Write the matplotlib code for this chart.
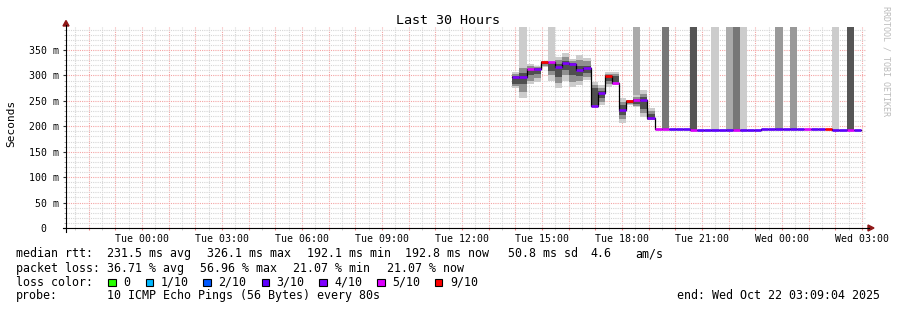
import matplotlib.pyplot as plt
from matplotlib.lines import Line2D
from matplotlib.patches import Rectangle, Polygon
from matplotlib.ticker import MultipleLocator
import numpy as np

plt.rcParams['font.family'] = ['DejaVu Sans Mono']

W, H = 897, 310

# ---- data (hours from Tue 00:00, values in ms) ----
t_start = 13.89          # first 16-minute step
step_h = 16 / 60

median_ms = [296, 296, 313, 312, 326, 326, 317, 324, 322, 311,
             314, 240, 265, 298, 286, 232, 249, 252, 252, 216,
             195.5, 195.5, 194, 194, 194, 193.5, 193.5, 193.5, 193.5, 193.5,
             193.5, 193.5, 193.5, 193.5, 193.5, 195, 195, 195, 195, 194,
             194, 194, 194, 194, 194, 192.1, 193.5, 193.5, 192.8]
loss = [4, 4, 5, 4, 9, 5, 4, 4, 4, 4,
        4, 4, 4, 9, 5, 4, 9, 5, 4, 4,
        5, 5, 3, 3, 3, 5, 3, 3, 3, 3,
        3, 5, 3, 3, 3, 3, 3, 3, 3, 3,
        3, 5, 3, 3, 9, 3, 3, 5, 3]

# smoke for the first 20 steps
outer_lo = [275, 255, 284, 288, 316, 290, 275, 290, 278, 281, 291, 237, 242, 278, 282, 206, 242, 238, 219, 212]
outer_hi = [307, 320, 322, 318, 329, 332, 337, 345, 333, 340, 335, 288, 281, 307, 307, 255, 252, 262, 271, 235]
mid_lo = [279, 268, 290, 294, 319, 300, 285, 300, 288, 290, 297, 240, 248, 283, 285, 214, 244, 240, 226, 213]
mid_hi = [302, 314, 318, 316, 328, 325, 330, 336, 328, 330, 328, 282, 275, 303, 302, 248, 251, 258, 264, 230]
inner_lo = [283, 284, 301, 302, 322, 308, 296, 310, 300, 298, 304, 242, 255, 290, 288, 222, 246, 244, 234, 214]
inner_hi = [299, 304, 313, 314, 327, 324, 322, 328, 324, 318, 318, 275, 270, 300, 298, 242, 250, 254, 258, 225]

# smoke columns running off the top of the chart
spike_steps = [1, 5, 17, 21, 25, 28, 30, 31, 32, 37, 39, 45, 47]
spike_lo = [255, 290, 240, 195.5, 193.5, 193.5, 193.5, 193.5, 193.5, 195, 194, 192.1, 193.5]
spike_shade = ['#cccccc', '#cccccc', '#aaaaaa', '#777777', '#555555', '#cccccc', '#aaaaaa',
               '#777777', '#cccccc', '#999999', '#999999', '#cccccc', '#555555']

loss_keys = [0, 1, 2, 3, 4, 5, 9]
loss_labels = ['0', '1/10', '2/10', '3/10', '4/10', '5/10', '9/10']
loss_colors = ['#26ff00', '#00b8ff', '#0059ff', '#5e00ff', '#7e00ff', '#dd00ff', '#ff0000']

y_top = 395
x_min, x_max = -2.849, 27.151


def fx(px):
    return px / W


def fy(py):
    return 1 - py / H


fig = plt.figure(figsize=(W / 100, H / 100), dpi=100, facecolor='white')
ax = fig.add_axes([fx(66), fy(228), 800 / W, (228 - 27.1) / H])
ax.set_facecolor('white')

starts = t_start + np.arange(len(median_ms)) * step_h

# smoke
n = len(outer_lo)
ax.bar(starts[:n], np.array(outer_hi) - np.array(outer_lo), bottom=outer_lo,
       width=step_h, align='edge', color='#cccccc', lw=0, zorder=2)
ax.bar(starts[:n], np.array(mid_hi) - np.array(mid_lo), bottom=mid_lo,
       width=step_h, align='edge', color='#8f8f8f', lw=0, zorder=2)
ax.bar(starts[:n], np.array(inner_hi) - np.array(inner_lo), bottom=inner_lo,
       width=step_h, align='edge', color='#4f4f4f', lw=0, zorder=2)
for s, lo, c in zip(spike_steps, spike_lo, spike_shade):
    ax.bar(starts[s], y_top + 10 - lo, bottom=lo, width=step_h, align='edge',
           color=c, lw=0, zorder=1.9)

# median line
edges = np.r_[starts, starts[-1] + step_h]
ax.step(edges, np.r_[median_ms, median_ms[-1]], where='post', color='black', lw=0.9, zorder=3)
cmap = dict(zip(loss_keys, loss_colors))
ax.hlines(median_ms, starts, starts + step_h, colors=[cmap[l] for l in loss],
          lw=1.9, zorder=4)

ax.set_xlim(x_min, x_max)
ax.set_ylim(0, y_top)

# ticks and grid
hours = np.arange(-2, 28)
ax.set_xticks(hours)
labels = []
for h in hours:
    if h >= 0 and h % 3 == 0:
        day = 'Tue' if h < 24 else 'Wed'
        labels.append(f"{day} {h % 24:02d}:00")
    else:
        labels.append('')
ax.set_xticklabels(labels)
ax.set_xticks(np.arange(-2.5, 27.5, 1.0), minor=True)

yt = np.arange(0, 351, 50)
ax.set_yticks(yt)
ax.set_yticklabels(['0  '] + [f"{v} m" for v in yt[1:]])
ax.yaxis.set_minor_locator(MultipleLocator(10))

ax.grid(which='major', color='#f4a4a4', ls=(0, (1, 1)), lw=0.8)
ax.grid(which='minor', color='#d6d6d6', ls=(0, (1, 1)), lw=0.8)
ax.set_axisbelow(True)

ax.tick_params(axis='x', which='major', length=1.6, color='#f08080', pad=2.8, labelsize=7.1)
ax.tick_params(axis='x', which='minor', length=1.2, color='#c8c8c8')
ax.tick_params(axis='y', which='major', length=2.4, color='#333333', pad=3, labelsize=7.1)
ax.tick_params(axis='y', which='minor', length=1.4, color='#999999')
for sp in ax.spines.values():
    sp.set_visible(False)

# axes with arrows
fig.add_artist(Line2D([fx(63), fx(869)], [fy(228), fy(228)], color='black', lw=0.8))
fig.add_artist(Line2D([fx(66), fx(66)], [fy(232), fy(25)], color='black', lw=0.8))
fig.add_artist(Polygon([[fx(868), fy(225)], [fx(874), fy(228)], [fx(868), fy(231)]],
                       closed=True, color='#901818', transform=fig.transFigure))
fig.add_artist(Polygon([[fx(63), fy(26)], [fx(66), fy(20.5)], [fx(69), fy(26)]],
                       closed=True, color='#901818', transform=fig.transFigure))

# titles
fig.text(fx(448), fy(24), "Last 30 Hours", ha='center', va='baseline', fontsize=9.6)
fig.text(fx(11), fy(123), "Seconds", rotation=90, ha='center', va='center', fontsize=8)
fig.text(fx(886), fy(61), "RRDTOOL / TOBI OETIKER", rotation=270, ha='center', va='center',
         fontsize=6.0, color='#bbbbbb')

# legend
fs = 8.35
rows = [
    (257.3, [(16, "median rtt:"), (107, "231.5 ms avg"), (207, "326.1 ms max"),
             (307, "192.1 ms min"), (405, "192.8 ms now"), (507.7, "50.8 ms sd"),
             (590, "4.6"), (635, "am/s")]),
    (271.7, [(16, "packet loss:"), (107, "36.71 % avg"), (200, "56.96 % max"),
             (293, "21.07 % min"), (387, "21.07 % now")]),
    (285.7, [(16, "loss color:")]),
    (299.3, [(16, "probe:"), (107, "10 ICMP Echo Pings (56 Bytes) every 80s")]),
]
for yb, items in rows:
    for xp, s in items:
        fig.text(fx(xp), fy(yb), s, ha='left', va='baseline', fontsize=fs)

box_x = [108.3, 145.7, 203.3, 261.7, 319.3, 377.3, 435]
for bx, lab, col in zip(box_x, loss_labels, loss_colors):
    fig.add_artist(Rectangle((fx(bx), fy(286)), 7.3 / W, 7.3 / H, transform=fig.transFigure,
                             facecolor=col, edgecolor='black', lw=0.8))
    fig.text(fx(bx + 15), fy(285.7), lab, ha='left', va='baseline', fontsize=fs)

fig.text(fx(880), fy(299.3), "end: Wed Oct 22 03:09:04 2025", ha='right', va='baseline', fontsize=fs)

fig.savefig("out.png", dpi=100, facecolor='white')
